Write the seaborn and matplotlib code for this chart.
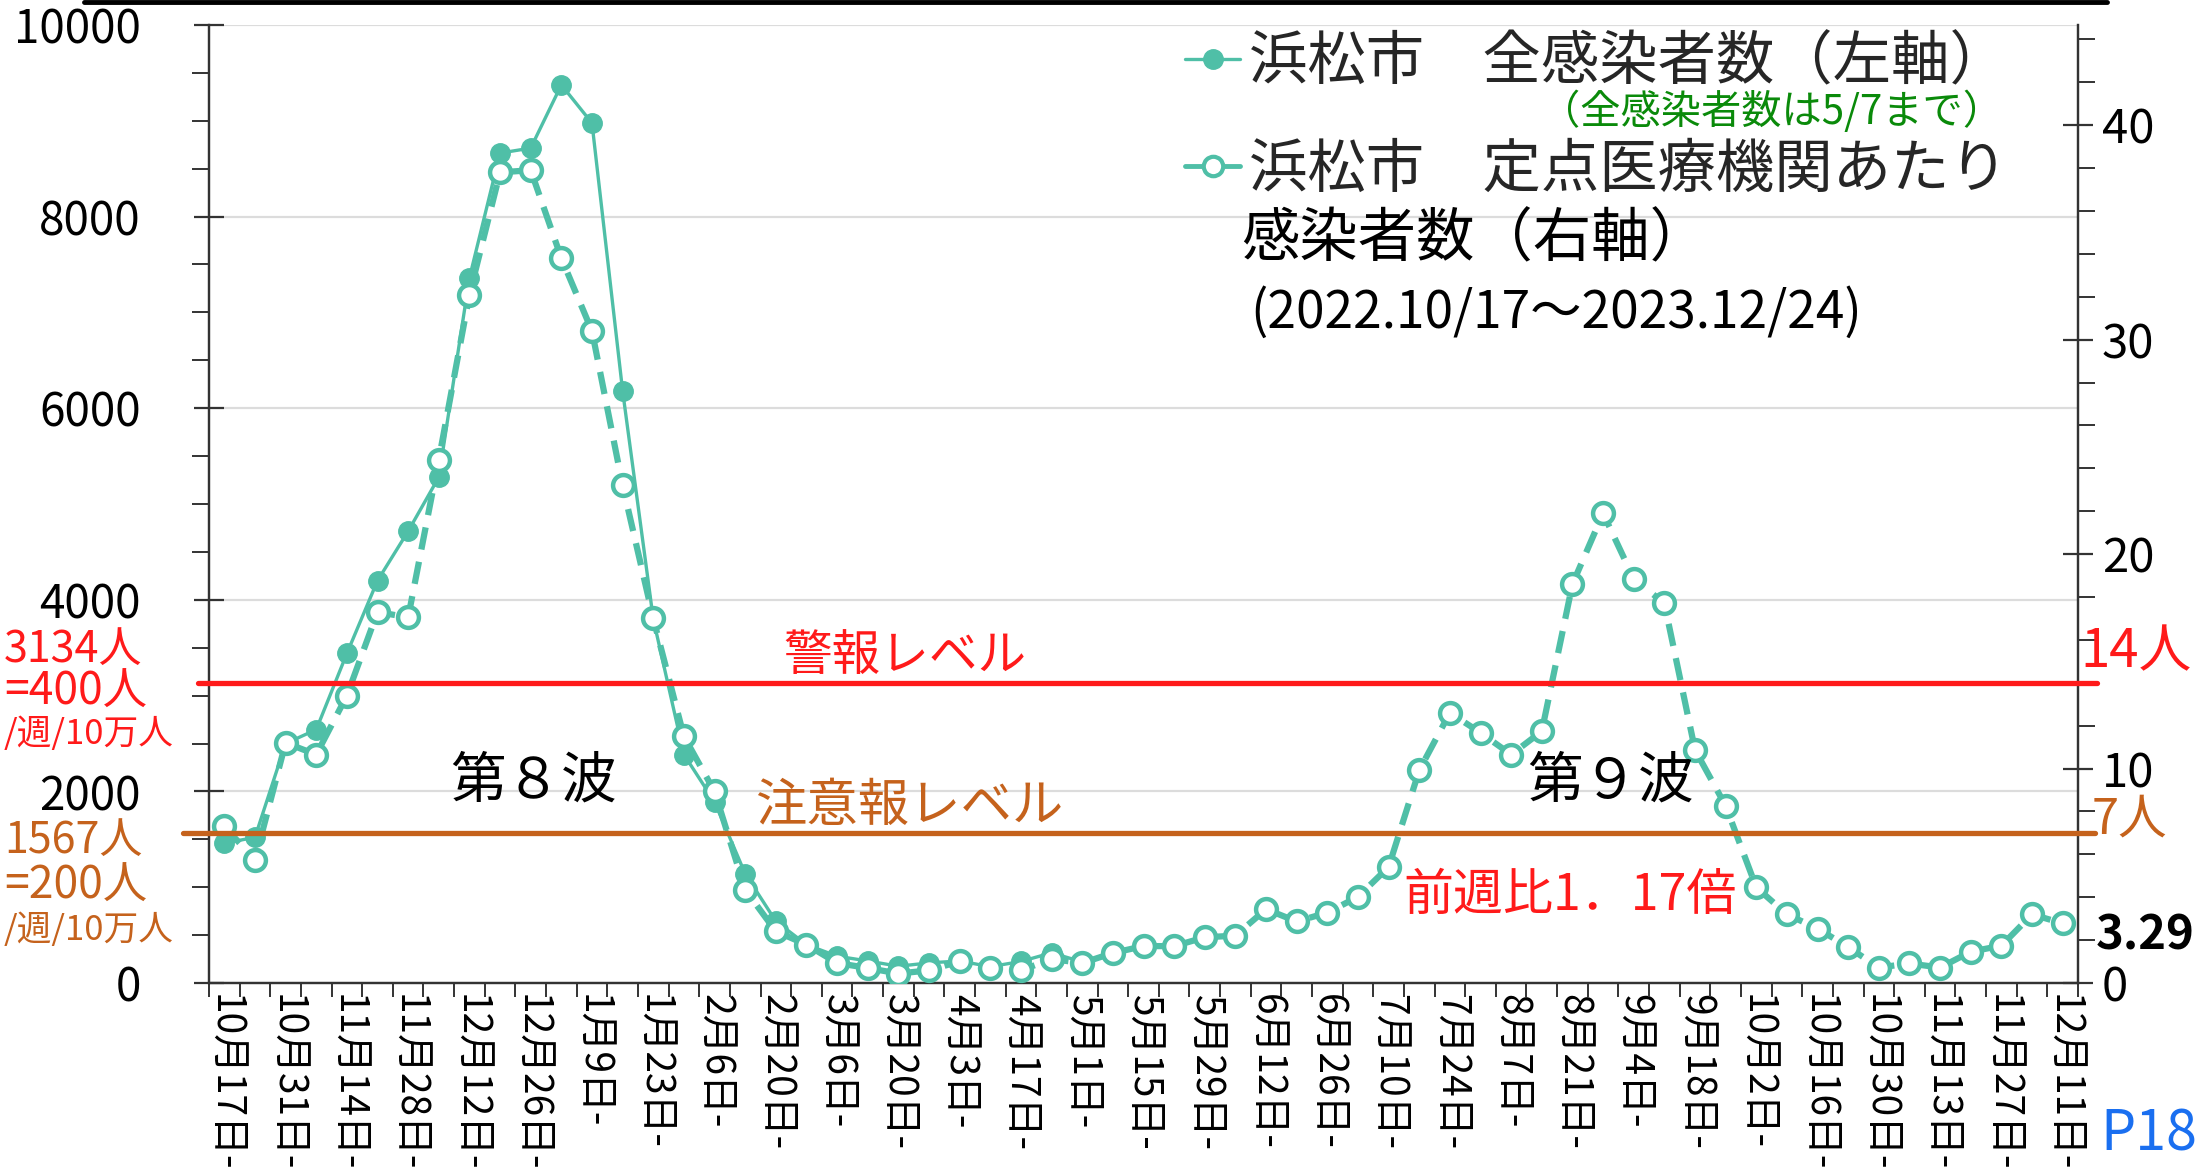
import numpy as np
import pandas as pd
import matplotlib
matplotlib.use("Agg")
import matplotlib.pyplot as plt
from matplotlib.lines import Line2D
import seaborn as sns

# ---------------- data ----------------
tick_labels = ["10月17日-", "10月31日-", "11月14日-", "11月28日-", "12月12日-", "12月26日-",
               "1月9日-", "1月23日-", "2月6日-", "2月20日-", "3月6日-", "3月20日-",
               "4月3日-", "4月17日-", "5月1日-", "5月15日-", "5月29日-", "6月12日-",
               "6月26日-", "7月10日-", "7月24日-", "8月7日-", "8月21日-", "9月4日-",
               "9月18日-", "10月2日-", "10月16日-", "10月30日-", "11月13日-", "11月27日-",
               "12月11日-"]

# 浜松市 全感染者数 (weekly, left axis) — until week of 5/1
total_cases = [1460, 1520, 2500, 2645, 3440, 4200, 4716, 5280, 7360, 8663,
               8715, 9375, 8976, 6180, 3800, 2385, 1890, 1140, 645, 400,
               280, 230, 175, 210, 230, 170, 225, 315, 220]

# 浜松市 定点医療機関あたり感染者数 (weekly, right axis)
sentinel = [7.3, 5.74, 11.2, 10.65, 13.4, 17.3, 17.05, 24.4, 32.1, 37.8,
            37.9, 33.8, 30.4, 23.2, 17.0, 11.5, 8.93, 4.35, 2.41, 1.79,
            0.93, 0.70, 0.44, 0.59, 1.01, 0.70, 0.59, 1.12, 0.93, 1.40,
            1.72, 1.72, 2.13, 2.21, 3.44, 2.87, 3.28, 4.02, 5.41, 9.92,
            12.6, 11.67, 10.65, 11.74, 18.6, 21.9, 18.85, 17.7, 10.87, 8.26,
            4.46, 3.2, 2.54, 1.67, 0.72, 0.91, 0.72, 1.46, 1.74, 3.2,
            2.78]

warning_total, caution_total = 3134, 1567
warning_sentinel, caution_sentinel = 14, 7
latest_value = "3.29"

# ---------------- style ----------------
sns.set_theme(style="white")
plt.rcParams["font.family"] = ["Noto Sans CJK JP", "DejaVu Sans"]

TEAL = "#4fbfa7"
RED = "#ff1a1a"
ORANGE = "#c5621c"
GREEN = "#0a8a0a"

W, H = 2212, 1175
fig = plt.figure(figsize=(W / 100, H / 100), dpi=100)
fig.patch.set_facecolor("white")
L, R, T, B = 209, 2078, 25, 983
ax = fig.add_axes([L / W, 1 - B / H, (R - L) / W, (B - T) / H])
ax2 = ax.twinx()

n = len(sentinel)
df_total = pd.DataFrame({"week": np.arange(len(total_cases)), "total": total_cases})
df_sent = pd.DataFrame({"week": np.arange(n), "sentinel": sentinel})

sns.lineplot(data=df_total, x="week", y="total", ax=ax, color=TEAL, linewidth=2.4,
             marker="o", markersize=14, markerfacecolor=TEAL, markeredgecolor=TEAL,
             markeredgewidth=1, legend=False, zorder=3)
sns.lineplot(data=df_sent, x="week", y="sentinel", ax=ax2, color=TEAL, linewidth=4.5,
             linestyle=(0, (3.6, 2.0)), marker="o", markersize=15,
             markerfacecolor="white", markeredgecolor=TEAL, markeredgewidth=3.2,
             legend=False, zorder=3)

# axes limits
ax.set_xlim(-0.5, n - 0.5)
ax.set_ylim(0, 10000)
ax2.set_ylim(0, 10000 * warning_sentinel / warning_total)

# left axis ticks
ax.set_yticks(np.arange(0, 10001, 2000))
ax.set_yticks(np.arange(0, 10001, 500), minor=True)
ax.tick_params(axis="y", which="major", direction="inout", length=22, width=1.6,
               labelsize=33, pad=38, colors="#333333", labelcolor="black")
ax.tick_params(axis="y", which="minor", direction="out", length=12, width=1.4,
               colors="#333333", left=True)
ax.yaxis.grid(True, which="major", color="#dcdcdc", linewidth=1.6)
ax.set_axisbelow(True)

# x axis
ax.set_xticks(np.arange(0, n, 2))
ax.set_xticklabels(tick_labels, rotation=270, fontsize=28, ha="center", va="top")
ax.set_xticks(np.arange(-0.5, n, 1), minor=True)
ax.tick_params(axis="x", which="major", length=0, pad=8, labelcolor="black")
ax.tick_params(axis="x", which="minor", direction="out", length=10, width=1.4,
               colors="#333333", bottom=True)
ax.set_xlabel("")
ax.set_ylabel("")

# right axis ticks
ax2.set_yticks(np.arange(0, 41, 10))
ax2.set_yticks(np.arange(0, 45, 2), minor=True)
ax2.tick_params(axis="y", which="major", direction="inout", length=22, width=1.6,
                labelsize=34, pad=6, colors="#333333", labelcolor="black")
ax2.tick_params(axis="y", which="minor", direction="out", length=12, width=1.4,
                colors="#333333", right=True)
ax2.set_ylabel("")
ax2.grid(False)

for a in (ax, ax2):
    a.spines["top"].set_visible(False)
    for s in ("left", "right", "bottom"):
        a.spines[s].set_color("#333333")
        a.spines[s].set_linewidth(1.6)

# alert level lines
ax2.axhline(warning_sentinel, xmin=-0.006, xmax=1.010, color=RED, linewidth=3.8,
            zorder=10, clip_on=False)
ax2.axhline(caution_sentinel, xmin=-0.014, xmax=1.009, color=ORANGE, linewidth=3.8,
            zorder=10, clip_on=False)

def ftext(x, y, s, **kw):
    fig.text(x / W, 1 - y / H, s, **kw)

# level labels inside plot
ftext(783, 657, "警報レベル", color=RED, fontsize=35, va="center", ha="left")
ftext(755, 806, "注意報レベル", color=ORANGE, fontsize=37, va="center", ha="left")
ftext(533, 782, "第８波", color="black", fontsize=40, va="center", ha="center")
ftext(1610, 782, "第９波", color="black", fontsize=40, va="center", ha="center")
ftext(1403, 896, "前週比1．17倍", color=RED, fontsize=36, va="center", ha="left")

# left-side level notes
ftext(4, 650, f"{warning_total}人", color=RED, fontsize=31, va="center", ha="left")
ftext(4, 692, "=400人", color=RED, fontsize=32, va="center", ha="left")
ftext(4, 735, "/週/10万人", color=RED, fontsize=25, va="center", ha="left")
ftext(4, 841, f"{caution_total}人", color=ORANGE, fontsize=31, va="center", ha="left")
ftext(4, 886, "=200人", color=ORANGE, fontsize=32, va="center", ha="left")
ftext(4, 930, "/週/10万人", color=ORANGE, fontsize=25, va="center", ha="left")

# right-side notes
ftext(2080, 652, f"{warning_sentinel}人", color=RED, fontsize=38, va="center", ha="left")
ftext(2092, 820, f"{caution_sentinel}人", color=ORANGE, fontsize=35, va="center", ha="left")
ftext(2096, 935, latest_value, color="black", fontsize=34, fontweight="bold",
      va="center", ha="left")
ftext(2100, 1135, "P18", color="#1a6ff0", fontsize=40, va="center", ha="left")

# legend
h1 = Line2D([], [], color=TEAL, linewidth=2.4, marker="o", markersize=14,
            markerfacecolor=TEAL, markeredgecolor=TEAL)
h2 = Line2D([], [], color=TEAL, linewidth=3.5, marker="o", markersize=14,
            markerfacecolor="white", markeredgecolor=TEAL, markeredgewidth=3)
leg = ax2.legend([h1, h2],
                 ["浜松市　全感染者数（左軸）", "浜松市　定点医療機関あたり"],
                 loc="upper left", bbox_to_anchor=(1185 / W, 1 - 32 / H),
                 bbox_transform=fig.transFigure, frameon=False, fontsize=42,
                 handlelength=0.95, handletextpad=0.15, labelspacing=0.8,
                 borderaxespad=0, borderpad=0)
leg.set_zorder(20)
ftext(2003, 112, "（全感染者数は5/7まで）", color=GREEN, fontsize=29, va="center", ha="right")
ftext(1241, 240, "感染者数（右軸）", color="black", fontsize=42, va="center", ha="left")
ftext(1250, 313, "(2022.10/17～2023.12/24)", color="black", fontsize=37, va="center", ha="left")

# top border line of the slide
fig.add_artist(Line2D([84 / W, 2107 / W], [1 - 1.5 / H, 1 - 1.5 / H],
                      transform=fig.transFigure, color="black", linewidth=3.5))

fig.savefig("out.png", dpi=100, facecolor="white")
